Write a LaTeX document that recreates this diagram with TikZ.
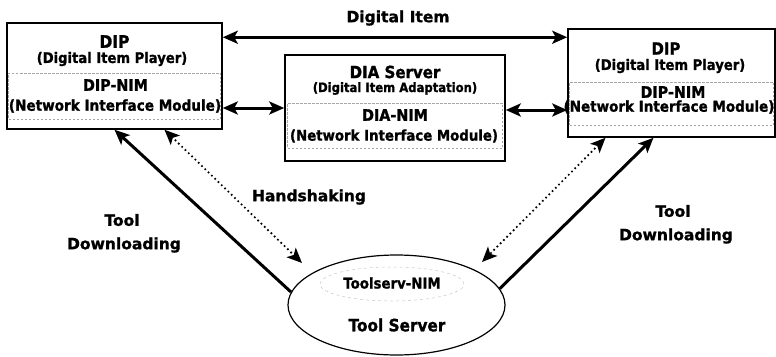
\documentclass[tikz,border=0pt]{standalone}
\usepackage{fontspec}
\setmainfont{DejaVu Sans}
\newfontfamily\bxfont{DejaVu Sans Bold}[FakeStretch=0.9, FakeBold=1.2]
\newfontfamily\lbfont{DejaVu Sans Bold}[FakeBold=1.2]
\usetikzlibrary{arrows.meta,shapes.geometric,calc}
\begin{document}
\begin{tikzpicture}[x=1pt,y=-1pt,
  box/.style={draw, line width=1.5pt, inner sep=0pt, rectangle},
  nimbox/.style={draw=gray!70, dash pattern=on 2.5pt off 1.5pt, line width=0.6pt, inner sep=0pt, rectangle},
  txt/.style={inner sep=0pt, font=\bxfont\fontsize{#1pt}{#1pt}\selectfont},
  lbl/.style={inner sep=0pt, font=\lbfont\fontsize{#1pt}{#1pt}\selectfont},
  tip/.tip={Stealth[length=15pt,width=13pt,inset=3.5pt]},
  arr/.style={line width=3pt, -tip},
  dblarr/.style={line width=3pt, tip-tip},
  dotarr/.style={line width=2.4pt, dash pattern=on 0pt off 4.6pt, line cap=round, tip-tip}
]
\useasboundingbox (0,0) rectangle (776,356);

% boxes
\node[box, minimum width=215pt, minimum height=106pt] (L) at (114.5,76) {};
\node[nimbox, minimum width=212pt, minimum height=46pt] (LN) at (114.5,96) {};
\node[box, minimum width=220pt, minimum height=106pt] (D) at (395,108) {};
\node[nimbox, minimum width=215pt, minimum height=45pt] (DN) at (395,125.5) {};
\node[box, minimum width=207pt, minimum height=108pt] (R) at (671.5,83) {};
\node[nimbox, minimum width=204pt, minimum height=43pt] (RN) at (671.5,103.5) {};
\node[draw, line width=1.2pt, ellipse, minimum width=217pt, minimum height=100pt, inner sep=0pt] (T) at (396.5,305) {};
\node[draw=gray!45, dash pattern=on 3pt off 3pt, line width=0.5pt, ellipse, minimum width=144pt, minimum height=34pt, inner sep=0pt] (TN) at (392,284) {};

% texts in left box
\node[txt=17.2] (l1) at (114.5,41.5) {DIP};
\node[txt=14.6] (l2) at (112,59) {(Digital Item Player)};
\node[txt=15.9] (l3) at (115.5,85) {DIP-NIM};
\node[txt=15.1] (l4) at (115,106) {(Network Interface Module)};
% texts in DIA box
\node[txt=16.7] (d1) at (395,72) {DIA Server};
\node[txt=12.9] (d2) at (395,88.5) {(Digital Item Adaptation)};
\node[txt=15.9] (d3) at (395,115) {DIA-NIM};
\node[txt=14.8] (d4) at (394,136) {(Network Interface Module)};
% texts in right box
\node[txt=16.6] (r1) at (666,48.5) {DIP};
\node[txt=14.6] (r2) at (670,66) {(Digital Item Player)};
\node[txt=15.9] (r3) at (673,92) {DIP-NIM};
\node[txt=15.0] (r4) at (669,107) {(Network Interface Module)};
% tool server
\node[txt=14.8] (t1) at (392,283) {Toolserv-NIM};
\node[txt=17] (t2) at (397,325) {Tool Server};

% labels
\node[lbl=15.5] (lbDI) at (398,18) {Digital Item};
\node[lbl=15.5] (lbHS) at (309,197) {Handshaking};
\node[lbl=15.5] (lbT1) at (122,220) {Tool};
\node[lbl=15.5] (lbD1) at (124,245) {Downloading};
\node[lbl=15.5] (lbT2) at (673,211) {Tool};
\node[lbl=15.5] (lbD2) at (676,236) {Downloading};

% free ends of the handshaking arrows
\coordinate (hsL) at (302,263);
\coordinate (hsR) at (482,262);

% connectors
\draw[dblarr] ([yshift=-15pt]L.north east) -- ([yshift=-15pt]L.north east -| R.west);
\draw[dblarr] ([yshift=-32pt]L.east) -- ([yshift=-32pt]L.east -| D.west);
\draw[dblarr] ([yshift=-2pt]D.east) -- ([yshift=-2pt]D.east -| R.west);
\draw[arr] (T.173) -- (L.south);
\draw[arr] (T.9) -- ([xshift=-18pt]R.south);
\draw[dotarr] ([xshift=50pt]L.south) -- (hsL);
\draw[dotarr] ([xshift=-66pt]R.south) -- (hsR);
\end{tikzpicture}
\end{document}
